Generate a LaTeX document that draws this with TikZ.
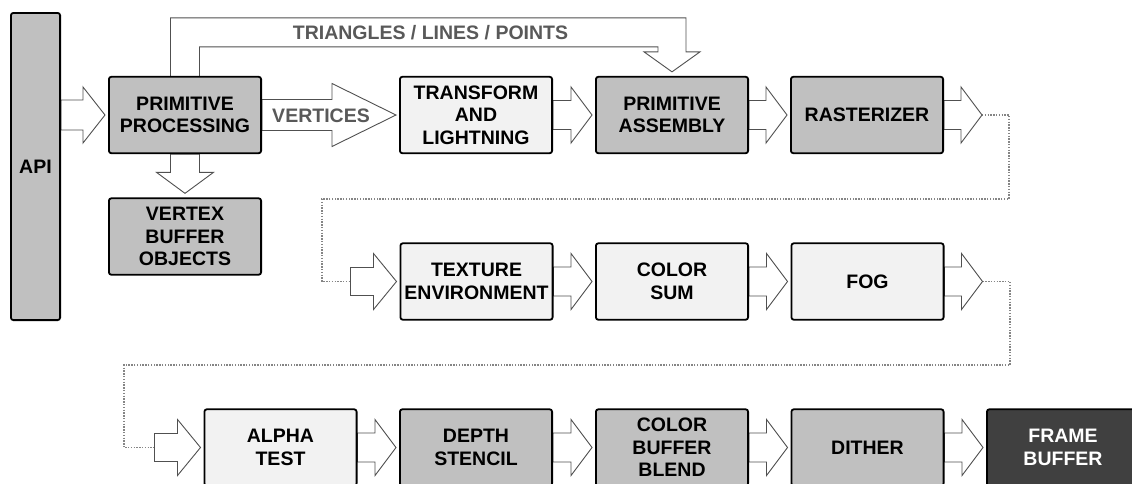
\documentclass[tikz,border=0pt]{standalone}
\usepackage{fontspec}
\setmainfont{Liberation Sans}
\usetikzlibrary{calc,backgrounds}

\definecolor{stagegray}{HTML}{C0C0C0}
\definecolor{stagelight}{HTML}{F2F2F2}
\definecolor{stagedark}{HTML}{404040}
\definecolor{arrowline}{HTML}{505050}
\definecolor{labelgray}{HTML}{595959}
\definecolor{dotgray}{HTML}{858585}

\newcommand\stagefont{\fontsize{19.5}{22.5}\selectfont\bfseries}

% horizontal block arrow: start, tip, shaft half height, head half height, head length
\newcommand\blockarrow[5]{%
  \draw[blockarr] let \p1=(#1), \p2=(#2) in
    (\x1,\y2+#3) -- (\x2-#5,\y2+#3) -- (\x2-#5,\y2+#4) -- (\x2,\y2)
    -- (\x2-#5,\y2-#4) -- (\x2-#5,\y2-#3) -- (\x1,\y2-#3) -- cycle;}

\begin{document}
\begin{tikzpicture}[x=1pt,y=-1pt,
  stage/.style={draw=black,line width=1.8pt,rounded corners=2.5pt,
    minimum width=152.2pt,minimum height=76.5pt,inner sep=1pt,
    align=center,font=\stagefont},
  gstage/.style={stage,fill=stagegray},
  lstage/.style={stage,fill=stagelight},
  dstage/.style={stage,fill=stagedark,text=white},
  blockarr/.style={draw=arrowline,line width=0.9pt,fill=white,line join=miter},
  dotline/.style={draw=dotgray,line width=1.4pt,dash pattern=on 1.4pt off 1.4pt},
  flowlabel/.style={text=labelgray,font=\stagefont,inner sep=0pt}]

\useasboundingbox (0,0) rectangle (1132,483);

% pipeline stages
\node[gstage,minimum width=49.2pt,minimum height=307.2pt] (api) at (35.5,166.5) {API};
\node[gstage] (pp)  at (185,115)     {PRIMITIVE\\PROCESSING};
\node[gstage] (vbo) at (185,236.5)   {VERTEX\\BUFFER\\OBJECTS};
\node[lstage] (tl)  at (476,115)     {TRANSFORM\\AND\\LIGHTNING};
\node[gstage] (pa)  at (672,115)     {PRIMITIVE\\ASSEMBLY};
\node[gstage] (ra)  at (867,115)     {RASTERIZER};
\node[lstage] (te)  at (476.5,281.5) {TEXTURE\\ENVIRONMENT};
\node[lstage] (cs)  at (672,281.5)   {COLOR\\SUM};
\node[lstage] (fog) at (867.5,281.5) {FOG};
\node[lstage] (at)  at (280.5,447.5) {ALPHA\\TEST};
\node[gstage] (ds)  at (476,447.5)   {DEPTH\\STENCIL};
\node[gstage] (cb)  at (672,447.5)   {COLOR\\BUFFER\\BLEND};
\node[gstage] (di)  at (867.5,447.5) {DITHER};
\node[dstage] (fb)  at (1063,447.5)  {FRAME\\BUFFER};

% free ends of the row-to-row links
\coordinate (rx)   at ([xshift=38pt]ra.east);
\coordinate (fx)   at ([xshift=38pt]fog.east);
\coordinate (r2in) at ([xshift=-49pt]te.west);
\coordinate (r3in) at ([xshift=-49pt]at.west);

\begin{scope}[on background layer]
  \fill[white] (0,0) rectangle (1132,483);

  % dotted wrap-around links
  \draw[dotline] (rx) -| (1009,199) -| (322,281.5) -- (r2in);
  \draw[dotline] (fx) -| (1010,365) -| (124,447.5) -- (r3in);

  % row 1
  \blockarrow{api.east}{[xshift=-3pt]pp.west}{15pt}{28pt}{22pt}
  \blockarrow{pp.east}{[xshift=-3pt]tl.west}{15.5pt}{31.5pt}{64pt}
  \blockarrow{tl.east}{[xshift=-3pt]pa.west}{14.5pt}{28pt}{21pt}
  \blockarrow{pa.east}{[xshift=-3pt]ra.west}{14.5pt}{28pt}{21pt}
  \blockarrow{ra.east}{rx}{14.5pt}{28pt}{21pt}
  % row 2
  \blockarrow{r2in}{[xshift=-3pt]te.west}{14pt}{28pt}{23pt}
  \blockarrow{te.east}{[xshift=-3pt]cs.west}{14.5pt}{28pt}{21pt}
  \blockarrow{cs.east}{[xshift=-3pt]fog.west}{14.5pt}{28pt}{21pt}
  \blockarrow{fog.east}{fx}{14.5pt}{28pt}{21pt}
  % row 3
  \blockarrow{r3in}{[xshift=-3pt]at.west}{14pt}{28pt}{23pt}
  \blockarrow{at.east}{[xshift=-3pt]ds.west}{14.5pt}{28pt}{21pt}
  \blockarrow{ds.east}{[xshift=-3pt]cb.west}{14.5pt}{28pt}{21pt}
  \blockarrow{cb.east}{[xshift=-3pt]di.west}{14.5pt}{28pt}{21pt}
  \blockarrow{di.east}{[xshift=-3pt]fb.west}{14.5pt}{28pt}{21pt}

  % down into the vertex buffer objects
  \draw[blockarr] let \p1=(pp.south), \p2=([yshift=4pt]vbo.north) in
    (\x1-14.5pt,\y1) -- (\x1-14.5pt,\y2+21pt) -- (\x1-28.5pt,\y2+21pt) -- (\x2,\y2)
    -- (\x1+28.5pt,\y2+21pt) -- (\x1+14.5pt,\y2+21pt) -- (\x1+14.5pt,\y1) -- cycle;

  % bypass over the top into primitive assembly
  \draw[blockarr] let \p1=(pp.north), \p2=([yshift=4pt]pa.north) in
    (\x1-14.5pt,\y1) -- (\x1-14.5pt,\y1+58pt) -- (\x2+14pt,\y1+58pt)
    -- (\x2+14pt,\y2+20pt) -- (\x2+28pt,\y2+20pt) -- (\x2,\y2)
    -- (\x2-28pt,\y2+20pt) -- (\x2-14pt,\y2+20pt) -- (\x2-14pt,\y1+29pt)
    -- (\x1+14.5pt,\y1+29pt) -- (\x1+14.5pt,\y1);
\end{scope}

% arrow labels
\node[flowlabel] (vlab) at (321,115.5) {VERTICES};
\node[flowlabel] (tlab) at (430.5,33) {TRIANGLES / LINES / POINTS};
\end{tikzpicture}
\end{document}
